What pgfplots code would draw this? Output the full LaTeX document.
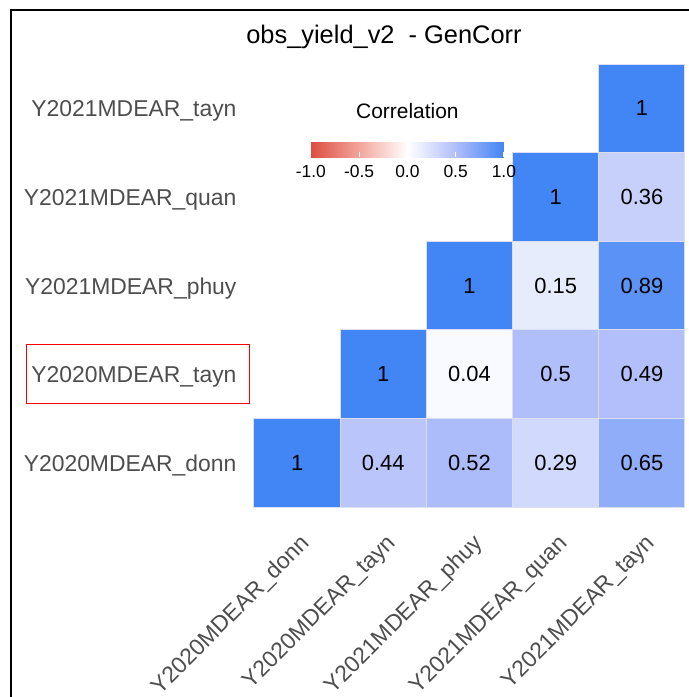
\documentclass[border=0pt]{standalone}
\usepackage{pgfplots}
\usepackage{pgfplotstable}
\pgfplotsset{compat=1.18}
\usepackage{fontspec}
\setmainfont{Liberation Sans}
\definecolor{labgray}{RGB}{77,77,77}
\definecolor{cellline}{RGB}{218,222,238}
\pgfplotstableread{
x y v
0 0 1
1 0 0.44
2 0 0.52
3 0 0.29
4 0 0.65
1 1 1
2 1 0.04
3 1 0.5
4 1 0.49
2 2 1
3 2 0.15
4 2 0.89
3 3 1
4 3 0.36
4 4 1
}\corrdata
\begin{document}
\begin{tikzpicture}
\path[use as bounding box] (0,0) rectangle (689bp,-697bp);
\begin{axis}[
  at={(254bp,-507bp)}, anchor=south west,
  scale only axis, width=431bp, height=443bp,
  xmin=-0.5, xmax=4.5, ymin=-0.5, ymax=4.5,
  axis line style={draw=none},
  tick style={draw=none},
  clip=false,
  xtick={0,1,2,3,4}, ytick={0,1,2,3,4},
  xticklabels={Y2020MDEAR\_donn,Y2020MDEAR\_tayn,Y2021MDEAR\_phuy,Y2021MDEAR\_quan,Y2021MDEAR\_tayn},
  yticklabels={Y2020MDEAR\_donn,Y2020MDEAR\_tayn,Y2021MDEAR\_phuy,Y2021MDEAR\_quan,Y2021MDEAR\_tayn},
  xticklabel style={font=\fontsize{23}{27}\selectfont, text=labgray, xshift=2bp, yshift=-21bp, rotate=45, anchor=north east},
  yticklabel style={font=\fontsize{23}{27}\selectfont, text=labgray, xshift=-14bp, yshift=-3bp},
  colormap={corr}{rgb255=(220,78,65) rgb255=(243,165,155) rgb255=(255,255,255) rgb255=(176,190,250) rgb255=(66,133,244)},
  point meta min=-1, point meta max=1,
  colorbar horizontal,
  colorbar style={
    at={(0.132,0.853)}, anchor=north west,
    scale only axis, width=193bp, height=28bp,
    axis line style={draw=none},
    xtick={-1,-0.5,0,0.5,1},
    xticklabels={-1.0,-0.5,0.0,0.5,1.0},
    xtick pos=both, xticklabel pos=lower,
    tick align=inside, major tick length=5bp,
    xtick style={draw=white, line width=1bp},
    xticklabel style={font=\fontsize{17.5}{20}\selectfont, text=black, yshift=-5bp},
    title={Correlation},
    title style={font=\fontsize{21}{25}\selectfont, text=black, yshift=1bp},
  },
]
\addplot[scatter, only marks, mark=square*, mark size=43.1bp,
  point meta=explicit,
  scatter/use mapped color={draw=cellline, fill=mapped color},
  mark options={yscale=1.028, line width=1bp},
] table[meta=v]{\corrdata};
\addplot[draw=none, mark=none, point meta=explicit symbolic,
  nodes near coords, nodes near coords align=center,
  every node near coord/.append style={font=\fontsize{22}{26}\selectfont, text=black, anchor=center},
] table[meta=v]{\corrdata};
\end{axis}
\node[anchor=base, font=\fontsize{25.5}{30}\selectfont] at (384bp,-43bp) {obs\_yield\_v2~ - GenCorr};
\draw[line width=2.5bp] (11bp,-697bp) -- (11bp,-10bp) -- (689bp,-10bp);
\draw[red, line width=1bp] (26bp,-344bp) rectangle (249bp,-403bp);
\end{tikzpicture}
\end{document}
